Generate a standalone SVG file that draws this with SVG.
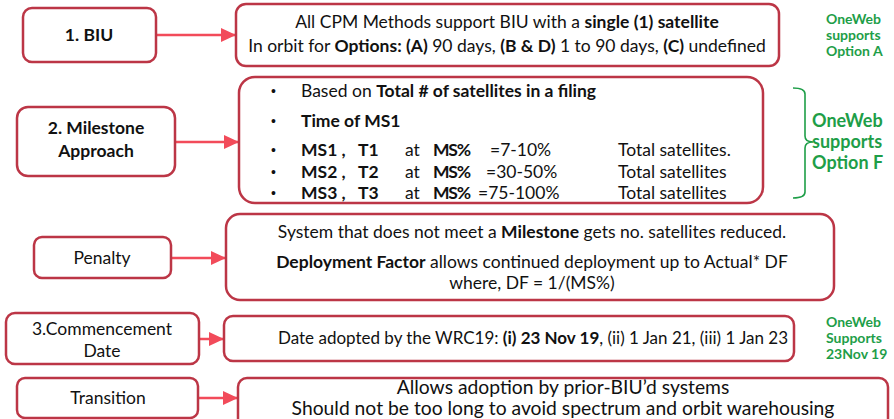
<svg xmlns="http://www.w3.org/2000/svg" width="894" height="419" viewBox="0 0 894 419">
  <defs>
    <marker id="head" markerWidth="16" markerHeight="16" refX="15" refY="7" orient="auto" markerUnits="userSpaceOnUse">
      <path d="M0,0 L15,7 L0,14 Z" fill="#F24B5A"/>
    </marker>
    <style>
      text { font-family: Lato, "Liberation Sans", sans-serif; font-size: 17.5px; fill: #111; }
      .box { fill: #fff; stroke: #BC3646; stroke-width: 2.5; }
      .b { font-weight: bold; }
      .c { text-anchor: middle; }
      .dot { font-family: "Liberation Sans", sans-serif; font-size: 14px; }
      .green { fill: #1E9E48; font-size: 14px; font-weight: bold; }
      .gbig { fill: #1E9E48; font-size: 18px; font-weight: bold; }
      .date { font-size: 17px; }
      .tr { font-size: 19.3px; }
      .conn { stroke: #F24B5A; stroke-width: 2.5; fill: none; marker-end: url(#head); }
    </style>
  </defs>
  <rect width="894" height="419" fill="#fff"/>

  <!-- connectors -->
  <g id="connectors">
    <line class="conn" x1="156" y1="35" x2="236" y2="35"/>
    <line class="conn" x1="175" y1="142" x2="239" y2="142"/>
    <line class="conn" x1="171" y1="258" x2="226" y2="258"/>
    <line class="conn" x1="199" y1="339" x2="224" y2="339"/>
    <line class="conn" x1="198" y1="398" x2="238" y2="398"/>
  </g>

  <!-- BIU -->
  <g id="biu">
    <rect class="box" x="23" y="8" width="133" height="54" rx="9"/>
    <text class="b c" x="89" y="41">1. BIU</text>
  </g>
  <g id="biu-detail">
    <rect class="box" x="236" y="4" width="543" height="62" rx="10"/>
    <text class="c" x="507" y="28">All CPM Methods support BIU with a <tspan class="b">single (1) satellite</tspan></text>
    <text class="c" x="507" y="52">In orbit for <tspan class="b">Options: (A)</tspan> 90 days, <tspan class="b">(B &amp; D)</tspan> 1 to 90 days, <tspan class="b">(C)</tspan> undefined</text>
  </g>
  <g id="note-a">
    <text class="green" x="826" y="24">OneWeb</text>
    <text class="green" x="826" y="40">supports</text>
    <text class="green" x="826" y="56">Option A</text>
  </g>

  <!-- Milestone approach -->
  <g id="milestone">
    <rect class="box" x="17" y="107" width="158" height="69" rx="11"/>
    <text class="b c" x="96" y="134">2. Milestone</text>
    <text class="b c" x="96" y="157">Approach</text>
  </g>
  <g id="milestone-detail">
    <rect class="box" x="239" y="77" width="524" height="126" rx="16"/>
    <text class="dot" x="271" y="96">•</text>
    <text x="301" y="97">Based on <tspan class="b">Total # of satellites in a filing</tspan></text>
    <text class="dot" x="271" y="126">•</text>
    <text class="b" x="301" y="127">Time of MS1</text>
    <text class="dot" x="271" y="155">•</text>
    <text class="b" x="301" y="156">MS1 ,</text>
    <text class="b" x="358" y="156">T1</text>
    <text x="405" y="156">at</text>
    <text class="b" x="433" y="156" textLength="38">MS%</text>
    <text x="490" y="156">=7-10%</text>
    <text x="618" y="156">Total satellites.</text>
    <text class="dot" x="271" y="177">•</text>
    <text class="b" x="301" y="178">MS2 ,</text>
    <text class="b" x="358" y="178">T2</text>
    <text x="405" y="178">at</text>
    <text class="b" x="433" y="178" textLength="38">MS%</text>
    <text x="486" y="178">=30-50%</text>
    <text x="618" y="178">Total satellites</text>
    <text class="dot" x="271" y="198">•</text>
    <text class="b" x="301" y="199">MS3 ,</text>
    <text class="b" x="358" y="199">T3</text>
    <text x="405" y="199">at</text>
    <text class="b" x="433" y="199" textLength="38">MS%</text>
    <text x="478" y="199">=75-100%</text>
    <text x="618" y="199">Total satellites</text>
  </g>
  <g id="note-f">
    <path d="M793,88 Q805,88 805,94 L805,136 Q805,142 813,142 Q805,142 805,148 L805,192 Q805,198 793,198" fill="none" stroke="#1E9E48" stroke-width="1.6"/>
    <text class="gbig" x="812" y="127">OneWeb</text>
    <text class="gbig" x="812" y="148">supports</text>
    <text class="gbig" x="812" y="169">Option F</text>
  </g>

  <!-- Penalty -->
  <g id="penalty">
    <rect class="box" x="34" y="237" width="137" height="41" rx="8"/>
    <text class="c" x="102" y="264">Penalty</text>
  </g>
  <g id="penalty-detail">
    <rect class="box" x="226" y="214" width="608" height="86" rx="14"/>
    <text class="c" x="532" y="238">System that does not meet a <tspan class="b">Milestone</tspan> gets no. satellites reduced.</text>
    <text class="c" x="532" y="268"><tspan class="b">Deployment Factor</tspan> allows continued deployment up to Actual* DF</text>
    <text class="c" x="532" y="289">where, DF = 1/(MS%)</text>
  </g>

  <!-- Commencement date -->
  <g id="commencement">
    <rect class="box" x="6" y="313" width="193" height="51" rx="9"/>
    <text class="c" x="102" y="335">3.Commencement</text>
    <text class="c" x="102" y="357">Date</text>
  </g>
  <g id="commencement-detail">
    <rect class="box" x="224" y="316" width="570" height="45" rx="9"/>
    <text class="date" x="278" y="344">Date adopted by the WRC19: <tspan class="b">(i) 23 Nov 19</tspan>, (ii) 1 Jan 21, (iii) 1 Jan 23</text>
  </g>
  <g id="note-date">
    <text class="green" x="826" y="327">OneWeb</text>
    <text class="green" x="826" y="343">Supports</text>
    <text class="green" x="826" y="359">23Nov 19</text>
  </g>

  <!-- Transition -->
  <g id="transition">
    <rect class="box" x="17" y="378" width="181" height="40" rx="8"/>
    <text class="c" x="108" y="404">Transition</text>
  </g>
  <g id="transition-detail">
    <rect class="box" x="238" y="378" width="650" height="50" rx="9"/>
    <text class="c tr" x="563" y="394">Allows adoption by prior-BIU’d systems</text>
    <text class="c tr" x="563" y="415">Should not be too long to avoid spectrum and orbit warehousing</text>
  </g>
</svg>
